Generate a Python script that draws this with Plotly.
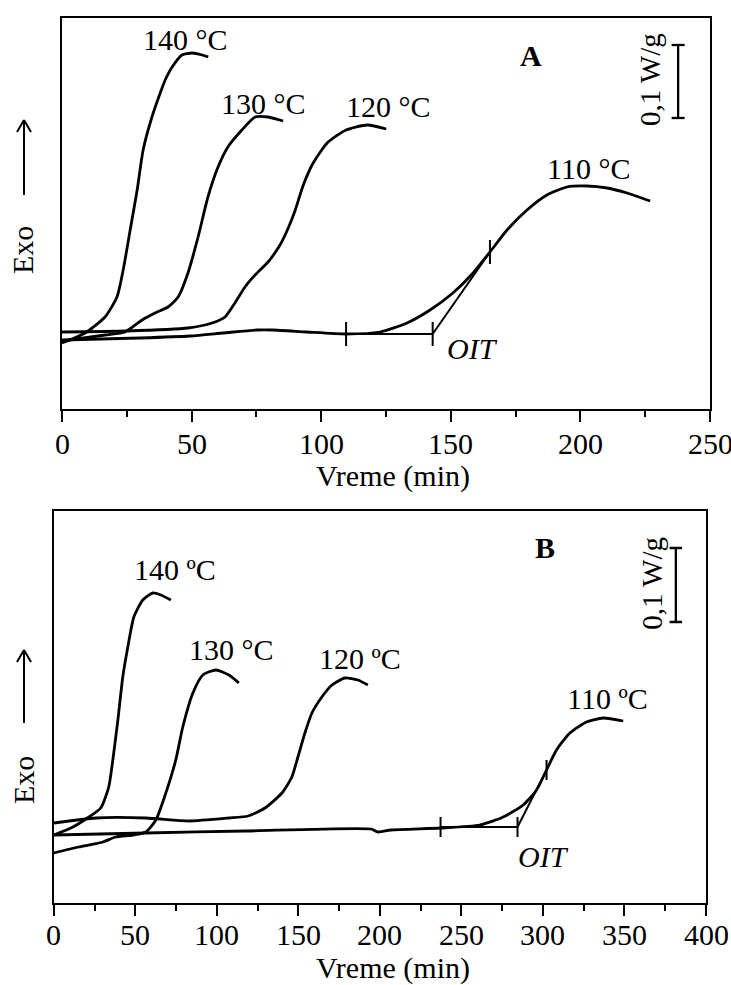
import plotly.graph_objects as go

W, H = 731, 985
FONT = "Liberation Serif"

# ---------------- Panel A (time in min, exo signal in a.u.; 0.1 W/g = 73 a.u.) ----------------
a140_t = [0, 8.9, 16.6, 21.2, 23.6, 26.3, 29.0, 31.3, 34.7, 38.6, 39.8, 42.5, 46.3, 50.2, 54.1, 56.4]
a140_y = [66, 76, 92, 112, 139, 179, 219, 259, 292, 321, 329, 342, 354, 356, 354, 352]

a130_t = [0, 16.6, 24.3, 30.9, 35.9, 40.9, 44.8, 48.6, 52.5, 56.3, 60.2, 64.0, 69.4, 74.5, 79.5, 85.3]
a130_y = [68, 74, 77, 89, 96, 102, 112, 136, 172, 212, 242, 262, 279, 292, 292, 288]

a120_t = [0, 25, 48.6, 57.9, 62.9, 66.7, 70.6, 74.5, 79.5, 84.1, 87.3, 90.0, 93.1, 96.9, 102.3, 109.6, 117.8, 125.1]
a120_y = [77, 78, 81, 86, 92, 106, 122, 134, 147, 164, 181, 199, 224, 246, 266, 279, 284, 280]

a110_t = [0, 30, 49.4, 62.1, 75.2, 81.4, 94.5, 109.6, 122.7, 133.1, 142.0, 150.8, 158.6, 165.1,
          171.7, 179.4, 187.1, 194.8, 202.5, 210.3, 218.0, 226.9]
a110_y = [69, 71, 73, 76, 79, 79, 77, 75, 77, 86, 99, 116, 136, 157, 179, 199, 214, 222, 223, 221, 216, 208]

# OIT construction A: [baseline start, onset], baseline level, tangent end (t, y)
a_oit_t = [109.6, 143.0]
a_oit_base = 75
a_tan_end = [165.1, 157]
a_scale = [291, 364]   # 0.1 W/g bar (a.u.)
a_ticks = [0, 50, 100, 150, 200, 250]

# ---------------- Panel B ----------------
b140_t = [0, 11.7, 21.5, 28.8, 33.7, 36.2, 39.3, 42.3, 45.4, 49.1, 54.6, 60.7, 65.6, 71.8]
b140_y = [68, 76, 86, 95, 116, 143, 183, 226, 256, 286, 303, 310, 308, 303]

b130_t = [0, 15.3, 30.1, 38.0, 48.5, 56.4, 62.6, 68.7, 74.8, 79.1, 85.3, 91.4, 99.4, 107.4, 113.5]
b130_y = [50, 56, 61, 66, 68, 71, 83, 110, 143, 176, 210, 228, 233, 228, 220]

b120_t = [0, 25.8, 56.4, 82.8, 107.4, 119.1, 129.5, 139.9, 146.0, 149.7, 154.0, 158.3, 164.4, 170.6, 178.5, 186.5, 192.6]
b120_y = [80, 85, 85, 82, 85, 87, 95, 110, 126, 146, 170, 190, 206, 218, 225, 223, 218]

b110_t = [0, 56.4, 117.8, 194.5, 198.8, 206.7, 237.4, 261.3, 275.6, 287.9, 296.1, 302.2, 308.3, 316.5, 326.7, 336.9, 349.2]
b110_y = [68, 70, 72, 74, 71, 73, 75, 78, 86, 98, 113, 133, 153, 170, 181, 185, 182]

b_oit_t = [237.2, 284.4]
b_oit_base = 76
b_tan_end = [302.2, 133]
b_scale = [281, 355]
b_ticks = [0, 50, 100, 150, 200, 250, 300, 350, 400]

labels_a = ["140 °C", "130 °C", "120 °C", "110 °C"]
labels_b = ["140 ºC", "130 °C", "120 ºC", "110 ºC"]

fig = go.Figure()

LW = 2.8

def curve(t, y, xa, ya):
    fig.add_trace(go.Scatter(x=t, y=y, mode="lines", xaxis=xa, yaxis=ya,
                             line=dict(color="black", width=LW, shape="spline", smoothing=0.6),
                             hoverinfo="skip"))

def seg(xs, ys, xa, ya, w=2.0):
    fig.add_trace(go.Scatter(x=xs, y=ys, mode="lines", xaxis=xa, yaxis=ya,
                             line=dict(color="black", width=w), hoverinfo="skip"))

for t, y in [(a140_t, a140_y), (a130_t, a130_y), (a120_t, a120_y), (a110_t, a110_y)]:
    curve(t, y, "x", "y")
for t, y in [(b140_t, b140_y), (b130_t, b130_y), (b120_t, b120_y), (b110_t, b110_y)]:
    curve(t, y, "x2", "y2")

# OIT constructions
def oit(ts, base, tan_end, xa, ya, half=11):
    seg(ts, [base, base], xa, ya)
    seg([ts[0], ts[0]], [base - half, base + half], xa, ya)
    seg([ts[1], ts[1]], [base - half, base + half], xa, ya)
    seg([ts[1], tan_end[0]], [base, tan_end[1]], xa, ya)
    seg([tan_end[0], tan_end[0]], [tan_end[1] - half, tan_end[1] + half], xa, ya)

oit(a_oit_t, a_oit_base, a_tan_end, "x", "y", 12)
oit(b_oit_t, b_oit_base, b_tan_end, "x2", "y2", 10)

# scale bars
def scalebar(xc, ys, cap, xa, ya):
    seg([xc, xc], ys, xa, ya, 2.3)
    seg([xc - cap, xc + cap], [ys[0], ys[0]], xa, ya, 2.3)
    seg([xc - cap, xc + cap], [ys[1], ys[1]], xa, ya, 2.3)

scalebar(237.7, a_scale, 2.5, "x", "y")
scalebar(381.5, b_scale, 3.8, "x2", "y2")

ann = []
def txt(x, y, s, xr, yr, size=30, bold=False, italic=False, angle=0):
    if bold:
        s = "<b>" + s + "</b>"
    if italic:
        s = "<i>" + s + "</i>"
    ann.append(dict(x=x, y=y, xref=xr, yref=yr, text=s, showarrow=False, textangle=angle,
                    font=dict(family=FONT, size=size, color="black"),
                    xanchor="center", yanchor="middle"))

pos_a = [(47.8, 370), (77.9, 306), (125.8, 303), (203.3, 241)]
for (x, y), s in zip(pos_a, labels_a):
    txt(x, y, s, "x", "y")
pos_b = [(74.3, 334), (108.7, 254), (187.7, 245), (339.8, 205)]
for (x, y), s in zip(pos_b, labels_b):
    txt(x, y, s, "x2", "y2")

txt(158.2, 61, "OIT", "x", "y", italic=True)
txt(300.5, 47, "OIT", "x2", "y2", italic=True)
txt(180.9, 354, "A", "x", "y", size=30, bold=True)
txt(301.2, 356, "B", "x2", "y2", size=30, bold=True)
txt(226.9, 329, "0,1 W/g", "x", "y", size=29, angle=-90)
txt(366.8, 320, "0,1 W/g", "x2", "y2", size=29, angle=-90)

def px(x, y):
    return x / W, 1 - y / H

# tick labels (as text, so they sit close to the axis like the original)
for tv in a_ticks:
    txt(tv, 1 - 443 / H, str(tv), "x", "paper")
for tv in b_ticks:
    txt(tv, 1 - 934 / H, str(tv), "x2", "paper")

# axis titles
for cy in (476, 968):
    xx, yy = px(393, cy)
    txt(xx, yy, "Vreme (min)", "paper", "paper")
# Exo labels and arrows
shapes = []
for ey, head, tail in [(250, 120, 195), (780, 650, 723)]:
    xx, yy = px(23, ey)
    txt(xx, yy, "Exo", "paper", "paper", angle=-90)
    for (x0, y0, x1, y1) in [(24, tail, 24, head), (24, head, 17, head + 12), (24, head, 31, head + 12)]:
        a0 = px(x0, y0)
        a1 = px(x1, y1)
        shapes.append(dict(type="line", xref="paper", yref="paper", x0=a0[0], y0=a0[1],
                           x1=a1[0], y1=a1[1], line=dict(color="black", width=2)))

def xaxis(dom, rng, anchor):
    return dict(domain=dom, range=rng, anchor=anchor, showline=True, linecolor="black", linewidth=2.2,
                mirror=True, ticks="outside", ticklen=11, tickwidth=2, tickcolor="black", dtick=50, tick0=0,
                minor=dict(dtick=25, ticklen=6, tickwidth=2, ticks="outside", tickcolor="black"),
                showgrid=False, zeroline=False, showticklabels=False)

def yaxis(dom, rng, anchor):
    return dict(domain=dom, range=rng, anchor=anchor, showline=True, linecolor="black", linewidth=2.2,
                mirror=True, ticks="", showticklabels=False, showgrid=False, zeroline=False)

fig.update_layout(
    width=W, height=H, margin=dict(l=0, r=0, t=0, b=0),
    paper_bgcolor="white", plot_bgcolor="white", showlegend=False,
    xaxis=xaxis([62 / W, 710 / W], [0, 250], "y"),
    yaxis=yaxis([1 - 409 / H, 1 - 18 / H], [0, 391], "x"),
    xaxis2=xaxis([53.8 / W, 706 / W], [0, 400], "y2"),
    yaxis2=yaxis([1 - 903 / H, 1 - 511 / H], [0, 392], "x2"),
    annotations=ann, shapes=shapes,
)

fig.write_html(
    "out.html",
    config={"displayModeBar": False},
    post_script="document.body.style.margin='0';document.body.style.padding='0';"
                "document.documentElement.style.overflow='hidden';",
)
